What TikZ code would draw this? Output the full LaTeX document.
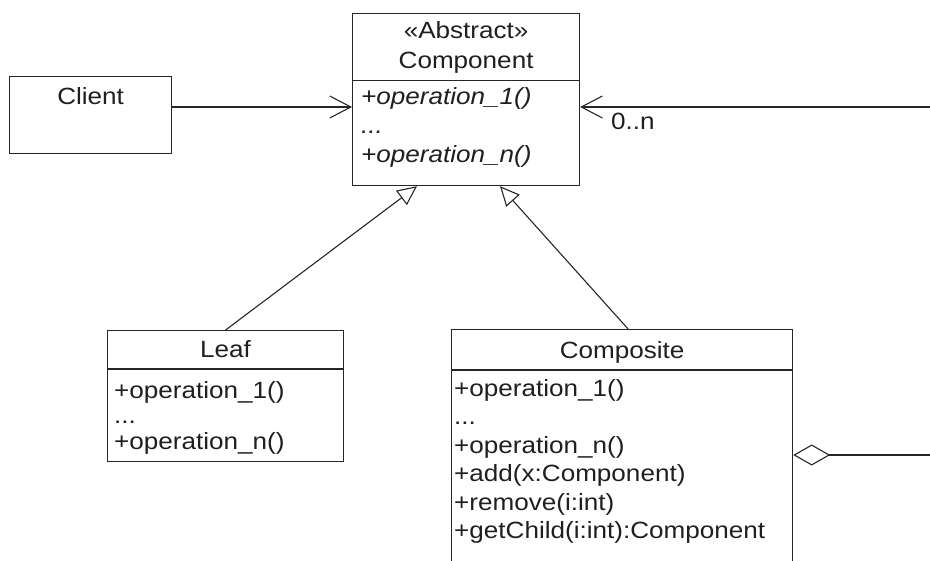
\documentclass[tikz,border=0pt]{standalone}
\usepackage{fontspec}
\setmainfont[FakeStretch=1.11]{Liberation Sans}
\usetikzlibrary{arrows.meta,positioning,calc}

\tikzset{
  umlbox/.style={draw=black!85, line width=1.2pt, anchor=north west, inner sep=0pt},
  umltext/.style={anchor=north west, inner sep=0pt, align=left, text=black!88},
  assoc/.style={line width=1.1pt, draw=black!85, -{Straight Barb[length=21pt,width=22pt,line width=1.1pt]}},
  generalize/.style={line width=1.1pt, draw=black!85, -{Triangle[open,length=19.5pt,width=18pt,line width=1.1pt]}},
  aggregate/.style={line width=1.1pt, draw=black!85, {Diamond[open,length=37pt,width=21pt,line width=1.1pt]}-}
}

\begin{document}
\begin{tikzpicture}[x=1pt,y=-1pt,font=\fontsize{23.5}{28}\selectfont]
  \useasboundingbox (0,0) rectangle (930,561);
  \clip (0,0) rectangle (930,561);

  % abstract component
  \node [umlbox, minimum width=227pt, minimum height=67pt] (comphead) at (352,13) {};
  \node [umltext, align=center, anchor=north] (compname) at ($(comphead.north)+(0,8)$)
    {«Abstract»\\[2pt]Component};
  \node [umlbox, minimum width=227pt, minimum height=105pt] (compbody) at (352,80) {};
  \node [umltext, font=\fontsize{23.5}{29}\selectfont\itshape] (compops) at ($(compbody.north west)+(9,7)$)
    {+operation\_1()\\...\\+operation\_n()};

  % client
  \node [umlbox, minimum width=162pt, minimum height=77pt] (client) at (9,76) {};
  \node [text=black!88, anchor=north] (clientname) at ($(client.north)+(0,8)$) {Client};

  % leaf
  \node [umlbox, minimum width=236pt, minimum height=38pt, text=black!88] (leafhead) at (107,330) {Leaf};
  \node [umlbox, minimum width=236pt, minimum height=92pt] (leafbody) at (leafhead.south west) {};
  \node [umltext, font=\fontsize{23.5}{25.5}\selectfont] (leafops) at ($(leafbody.north west)+(7,12)$)
    {+operation\_1()\\...\\+operation\_n()};

  % composite
  \node [umlbox, minimum width=341pt, minimum height=40pt] (cmpsthead) at (451,329) {};
  \node [text=black!88] (cmpstname) at ($(cmpsthead.center)+(0,3)$) {Composite};
  \node [umlbox, minimum width=341pt, minimum height=240pt] (cmpstbody) at (cmpsthead.south west) {};
  \node [umltext, font=\fontsize{23.5}{28.4}\selectfont] (cmpstops) at ($(cmpstbody.north west)+(3,9)$)
    {+operation\_1()\\...\\+operation\_n()\\+add(x:Component)\\+remove(i:int)\\+getChild(i:int):Component};

  % connectors
  \coordinate (backlink) at (930,107);
  \coordinate (childlink) at (930,455);
  \draw [assoc] (client.east |- backlink) -- (compbody.west |- backlink);
  \draw [assoc] (backlink) -- (compbody.east |- backlink);
  \node [text=black!88, anchor=north west, inner sep=0pt] (mult) at (611,113) {0..n};
  \draw [generalize] (leafhead.north) -- ($(compbody.south west)+(65,0)$);
  \draw [generalize] ($(cmpsthead.north)+(6,0)$) -- ($(compbody.south west)+(148,0)$);
  \draw [aggregate] (cmpstbody.east |- childlink) -- (childlink);
\end{tikzpicture}
\end{document}
